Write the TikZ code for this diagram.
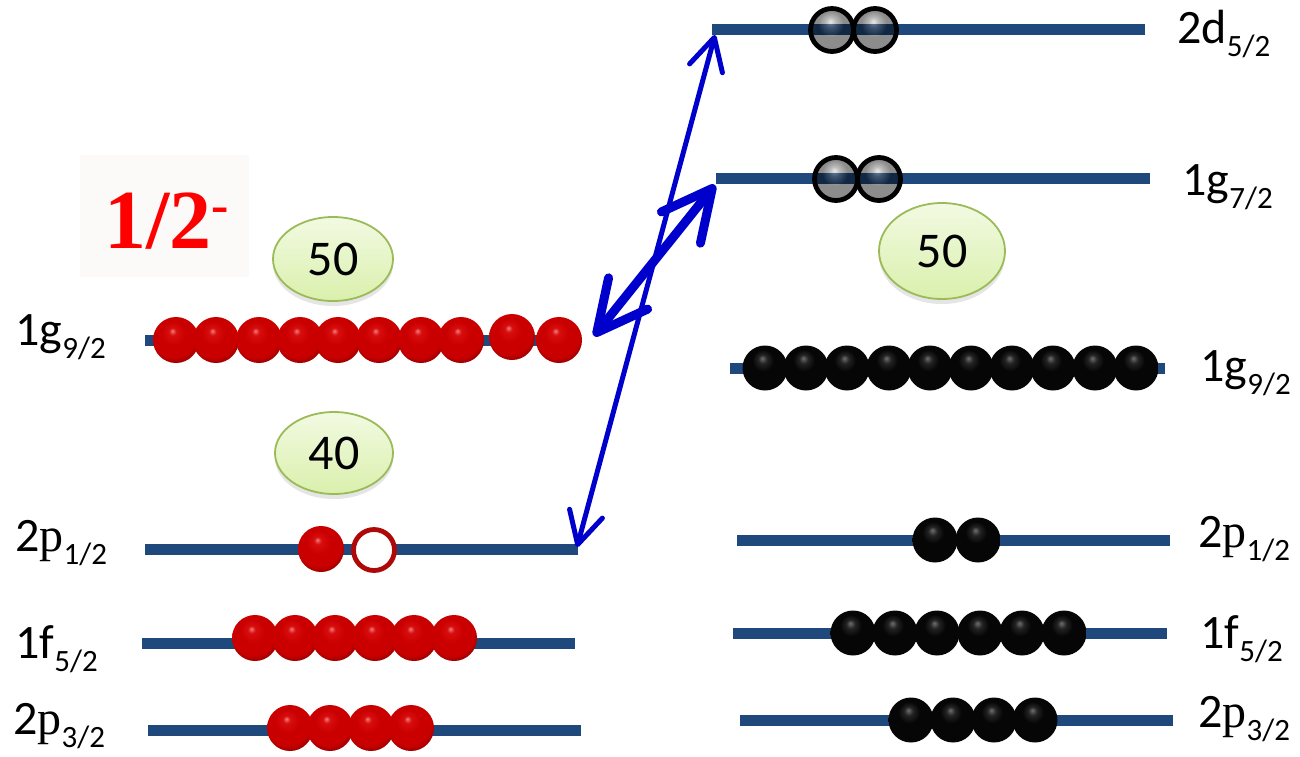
\documentclass[tikz,border=0pt]{standalone}
\usepackage{fontspec}
\setmainfont{Carlito}
\newfontfamily\pserif{Liberation Serif}
\newfontfamily\titleserif{Liberation Serif}
\usetikzlibrary{arrows.meta,shapes.geometric,shadows}

\definecolor{levelblue}{HTML}{1F497D}
\definecolor{arrowblue}{RGB}{0,0,204}
\definecolor{magicedge}{HTML}{9BBB59}
\definecolor{magictop}{RGB}{242,250,226}
\definecolor{magicbot}{RGB}{218,240,172}
\definecolor{titlebg}{RGB}{252,250,249}
\definecolor{ringred}{RGB}{175,8,8}

% bead colours
\definecolor{beadhi}{RGB}{240,125,125}
\definecolor{beadmid}{RGB}{216,14,14}
\definecolor{beadbody}{RGB}{202,0,0}
\definecolor{beaddark}{RGB}{115,0,0}
\definecolor{inkhi}{RGB}{110,110,110}
\definecolor{inkmid}{RGB}{35,35,35}
\definecolor{inkbody}{RGB}{6,6,6}
\definecolor{glasshi}{RGB}{205,205,205}
\definecolor{glassmid}{RGB}{100,100,100}

\pgfdeclareradialshading{redbead}{\pgfpoint{-4bp}{10bp}}{%
  color(0bp)=(beadhi); color(4bp)=(beadmid); color(13bp)=(beadbody);
  color(24bp)=(beadbody); color(34bp)=(beaddark); color(50bp)=(beaddark)}
\pgfdeclareradialshading{blackbead}{\pgfpoint{-3bp}{11bp}}{%
  color(0bp)=(inkhi); color(5bp)=(inkmid); color(12bp)=(inkbody);
  color(50bp)=(inkbody)}
\pgfdeclareradialshading{greybead}{\pgfpoint{-2bp}{10bp}}{%
  color(0bp)=(glasshi); color(6bp)=(glassmid); color(15bp)=(black);
  color(50bp)=(black)}

% orbital label: main part, then lowered j subscript
\newcommand{\orbital}[3]{\fontsize{24}{24}\selectfont #1#2\raisebox{-6.5pt}{\fontsize{15.5}{15.5}\selectfont #3}}

\begin{document}
\begin{tikzpicture}[x=0.5pt,y=-0.5pt,
  level/.style={levelblue, line width=5.5pt},
  lbl/.style={anchor=base west, inner sep=0pt},
  redball/.style={circle, inner sep=0pt, minimum size=23pt, shade, shading=redbead},
  blackball/.style={circle, inner sep=0pt, minimum size=22.5pt, shade, shading=blackbead},
  greyball/.style={circle, inner sep=0pt, minimum size=21.5pt, shade, shading=greybead,
    fill opacity=0.45, draw=black, draw opacity=1, line width=2.4pt},
  holeball/.style={circle, inner sep=0pt, minimum size=20.5pt, fill=white, draw=ringred, line width=2.4pt},
  magic/.style={ellipse, inner sep=0pt, draw=magicedge, line width=0.9pt,
    top color=magictop, bottom color=magicbot,
    drop shadow={shadow xshift=0pt, shadow yshift=-2.5pt, opacity=0.2},
    font=\fontsize{25}{25}\selectfont},
  thinarrow/.style={arrowblue, line width=2.5pt, line cap=round,
    >={Straight Barb[round,length=16pt 0 0,width=17pt 0 0]}, <->},
  thickarrow/.style={arrowblue, line width=4.5pt, line cap=round,
    >={Straight Barb[round,length=25pt 0 0,width=25pt 0 0]}, <->}
]
\fill[white] (0,0) rectangle (1300,756);
\useasboundingbox (0,0) rectangle (1300,756);

% ---------------- left column: protons ----------------
\draw[level] (145,340) -- (580,340);
\draw[level] (145,549) -- (578,549);
\draw[level] (142,643) -- (575,643);
\draw[level] (148,730) -- (581,730);

\foreach \x/\y [count=\i] in {176/340,216/340,259/340,300/340,338/340,379/340,421/340,461/340,512/337,559/340}
  \node[redball] (pg\i) at (\x,\y) {};
\node[redball] (pp1) at (321,549) {};
\node[holeball] (hole) at (374,550) {};
\foreach \x [count=\i] in {255,295,335,375,414,454}
  \node[redball] (pf\i) at (\x,638) {};
\foreach \x [count=\i] in {290,330,371,411}
  \node[redball] (pq\i) at (\x,728) {};

\node[lbl] (Lg92) at (15,345) {\orbital{1}{g}{9/2}};
\node[lbl] (Lp12) at (15,551) {\orbital{2}{{\pserif p}}{1/2}};
\node[lbl] (Lf52) at (15,658) {\orbital{1}{f}{5/2}};
\node[lbl] (Lp32) at (13,734) {\orbital{2}{{\pserif p}}{3/2}};

\node[magic, minimum width=60pt, minimum height=42pt] (m50L) at (333,259) {50};
\node[magic, minimum width=59pt, minimum height=41pt] (m40L) at (334,453) {40};

% spin-parity of the state
\node[fill=titlebg, inner sep=0pt, minimum width=84.5pt, minimum height=61pt] (jbox) at (164.5,216) {};
\node[lbl, text=red, font=\titleserif\bfseries\fontsize{42}{42}\selectfont] (jpi) at (104,248)
  {1/2\raisebox{13pt}{\fontsize{26}{26}\selectfont -}};

% ---------------- right column: neutrons ----------------
\draw[level] (712,29) -- (1145,29);
\draw[level] (716,178) -- (1150,178);
\draw[level] (730,368) -- (1165,368);
\draw[level] (737,540) -- (1170,540);
\draw[level] (733,633) -- (1167,633);
\draw[level] (740,720) -- (1173,720);

\node[greyball] (nd1) at (832,30) {};
\node[greyball] (nd2) at (875,30) {};
\node[greyball] (ng1) at (836,179) {};
\node[greyball] (ng2) at (879,179) {};
\foreach \x [count=\i] in {765,806,847,889,930,971,1012,1053,1095,1136}
  \node[blackball] (ngg\i) at (\x,368) {};
\foreach \x [count=\i] in {935,978}
  \node[blackball] (np\i) at (\x,540) {};
\foreach \x [count=\i] in {853,895,937,980,1022,1064}
  \node[blackball] (nf\i) at (\x,633) {};
\foreach \x [count=\i] in {911,953,994,1035}
  \node[blackball] (nq\i) at (\x,720) {};

\node[lbl] (Rd52) at (1177,43) {\orbital{2}{d}{5/2}};
\node[lbl] (Rg72) at (1182,195) {\orbital{1}{g}{7/2}};
\node[lbl] (Rg92) at (1200,381) {\orbital{1}{g}{9/2}};
\node[lbl] (Rp12) at (1198,547) {\orbital{2}{{\pserif p}}{1/2}};
\node[lbl] (Rf52) at (1200,648) {\orbital{1}{f}{5/2}};
\node[lbl] (Rp32) at (1198,727) {\orbital{2}{{\pserif p}}{3/2}};

\node[magic, minimum width=63pt, minimum height=48pt] (m50R) at (942,251) {50};

% ---------------- excitations ----------------
\coordinate (p12end) at (577,547);
\coordinate (d52end) at (715,35);
\coordinate (g92end) at (594,336);
\coordinate (g72end) at (715,185);
\draw[thinarrow] (p12end) -- (d52end);
\draw[thickarrow] (g92end) -- (g72end);
\end{tikzpicture}
\end{document}
